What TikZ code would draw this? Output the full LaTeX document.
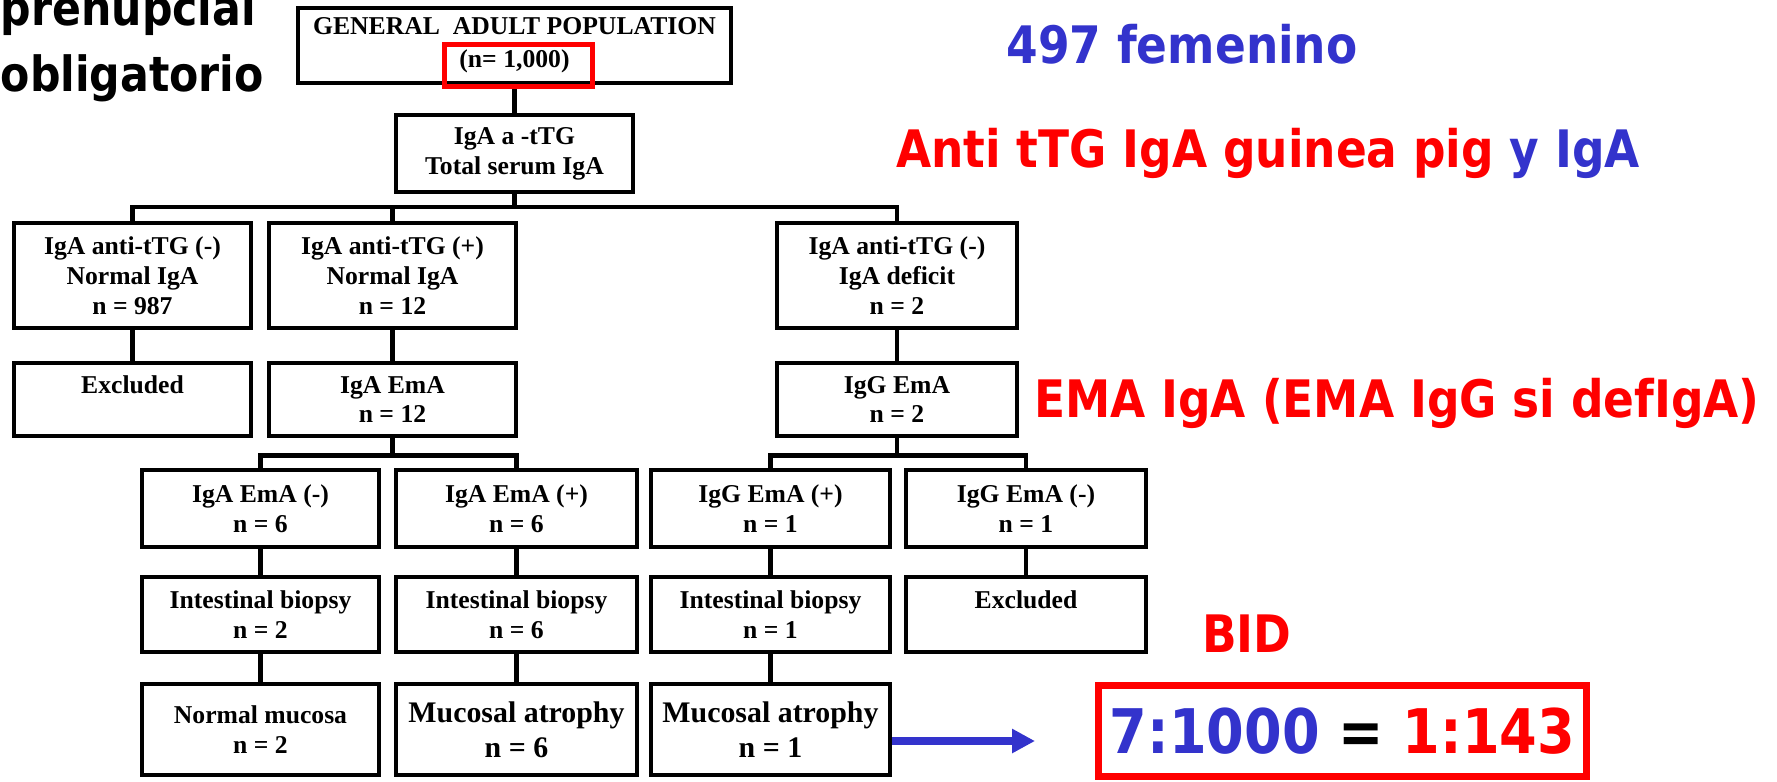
\documentclass[tikz,border=0pt]{standalone}
\usepackage{fontspec}
\setmainfont{Liberation Serif}
\newfontfamily\handfont[FakeStretch=0.88]{DejaVu Sans}
\usetikzlibrary{arrows.meta}
\definecolor{handblue}{RGB}{51,51,204}
\definecolor{handred}{RGB}{255,0,0}

\begin{document}
\begin{tikzpicture}[x=1cm, y=-1cm,
    box/.style={draw, line width=1pt, inner sep=0pt, align=center,
      font=\fontsize{7.3}{8.5}\selectfont\bfseries},
    bigbox/.style={box, font=\fontsize{8.5}{10}\selectfont\bfseries},
    link/.style={line width=1.2pt},
    hl/.style={draw=handred, line width=1.4pt},
    hand/.style={inner sep=0pt, font=\handfont\bfseries\fontsize{14.7}{16}\selectfont},
    bluearrow/.style={draw=handblue, line width=2.3pt,
      -{Triangle[length=0.23cm, width=0.23cm]}}]
    \useasboundingbox (0,0) rectangle (17.77,7.81);

    \node (gen) [box, minimum width=4.33cm, minimum height=0.75cm,
        font=\fontsize{7.3}{9.4}\selectfont\bfseries] at (5.145,0.455)
        {GENERAL\ \ ADULT POPULATION\\(n= 1,000)};
    \node (test) [box, minimum width=2.37cm, minimum height=0.77cm] at (5.145,1.535)
        {IgA a -tTG\\Total serum IgA};

    % first split
    \node (negA) [box, minimum width=2.37cm, minimum height=1.05cm] at (1.325,2.755)
        {IgA anti-tTG (-)\\Normal IgA\\n = 987};
    \node (posA) [box, minimum width=2.47cm, minimum height=1.05cm] at (3.925,2.755)
        {IgA anti-tTG (+)\\Normal IgA\\n = 12};
    \node (defA) [box, minimum width=2.40cm, minimum height=1.05cm] at (8.97,2.755)
        {IgA anti-tTG (-)\\IgA deficit\\n = 2};

    \node (excl1) [box, minimum width=2.37cm, minimum height=0.73cm] at (1.325,3.995)
        {Excluded\\\phantom{n = 12}};
    \node (emaA) [box, minimum width=2.47cm, minimum height=0.73cm] at (3.925,3.995)
        {IgA EmA\\n = 12};
    \node (emaG) [box, minimum width=2.40cm, minimum height=0.73cm] at (8.97,3.995)
        {IgG EmA\\n = 2};

    % second split
    \node (emaAneg) [box, minimum width=2.37cm, minimum height=0.77cm] at (2.605,5.085)
        {IgA EmA (-)\\n = 6};
    \node (emaApos) [box, minimum width=2.41cm, minimum height=0.77cm] at (5.165,5.085)
        {IgA EmA (+)\\n = 6};
    \node (emaGpos) [box, minimum width=2.39cm, minimum height=0.77cm] at (7.705,5.085)
        {IgG EmA (+)\\n = 1};
    \node (emaGneg) [box, minimum width=2.40cm, minimum height=0.77cm] at (10.26,5.085)
        {IgG EmA (-)\\n = 1};

    \node (bx1) [box, minimum width=2.37cm, minimum height=0.75cm] at (2.605,6.145)
        {Intestinal biopsy\\n = 2};
    \node (bx2) [box, minimum width=2.41cm, minimum height=0.75cm] at (5.165,6.145)
        {Intestinal biopsy\\n = 6};
    \node (bx3) [box, minimum width=2.39cm, minimum height=0.75cm] at (7.705,6.145)
        {Intestinal biopsy\\n = 1};
    \node (excl2) [box, minimum width=2.40cm, minimum height=0.75cm] at (10.26,6.145)
        {Excluded\\\phantom{n = 1}};

    \node (normal) [box, minimum width=2.37cm, minimum height=0.91cm] at (2.605,7.295)
        {Normal mucosa\\n = 2};
    \node (atrA) [bigbox, minimum width=2.41cm, minimum height=0.91cm] at (5.165,7.295)
        {Mucosal atrophy\\n = 6};
    \node (atrG) [bigbox, minimum width=2.39cm, minimum height=0.91cm] at (7.705,7.295)
        {Mucosal atrophy\\n = 1};

    \coordinate (bus1) at (0,2.07);
    \coordinate (bus2) at (0,4.555);
    \draw[link] (gen) -- (test);
    \draw[link] (test) -- (test |- bus1);
    \draw[link] (negA) |- (bus1 -| defA) -- (defA);
    \draw[link] (posA) -- (posA |- bus1);
    \draw[link] (negA) -- (excl1);
    \draw[link] (posA) -- (emaA);
    \draw[link] (defA) -- (emaG);
    \draw[link] (emaA) -- (emaA |- bus2);
    \draw[link] (emaAneg) |- (bus2 -| emaApos) -- (emaApos);
    \draw[link] (emaG) -- (emaG |- bus2);
    \draw[link] (emaGpos) |- (bus2 -| emaGneg) -- (emaGneg);
    \draw[link] (emaAneg) -- (bx1);
    \draw[link] (emaApos) -- (bx2);
    \draw[link] (emaGpos) -- (bx3);
    \draw[link] (emaGneg) -- (excl2);
    \draw[link] (bx1) -- (normal);
    \draw[link] (bx2) -- (atrA);
    \draw[link] (bx3) -- (atrG);

    % highlight on the total
    \draw[hl] (4.445,0.445) rectangle (5.925,0.865);

    \node (prenup) [hand, anchor=base west, font=\handfont\bfseries\fontsize{13.8}{15}\selectfont]
        at (0,0.25) {prenupcial};
    \node (oblig) [hand, anchor=base west, font=\handfont\bfseries\fontsize{13.8}{15}\selectfont]
        at (0,0.91) {obligatorio};
    \node (fem) [hand, anchor=base, text=handblue] at (11.82,0.63) {497 femenino};
    \node (anti) [hand, anchor=base, text=handred] at (12.68,1.67)
        {Anti tTG IgA guinea pig \textcolor{handblue}{y IgA}};
    \node (emanote) [hand, anchor=base, text=handred] at (13.97,4.17)
        {EMA IgA (EMA IgG si defIgA)};
    \node (bid) [hand, anchor=base, text=handred] at (12.47,6.52) {BID};
    \node (ratio) [draw=handred, line width=2pt, minimum width=4.88cm, minimum height=0.91cm,
        inner sep=0pt, font=\handfont\bfseries\fontsize{17.5}{19}\selectfont] at (13.425,7.31)
        {\textcolor{handblue}{7:1000} = \textcolor{handred}{1:143}};
    \coordinate (tip) at (10.35,7.41);
    \draw[bluearrow] (atrG.east |- tip) -- (tip);
\end{tikzpicture}
\end{document}
